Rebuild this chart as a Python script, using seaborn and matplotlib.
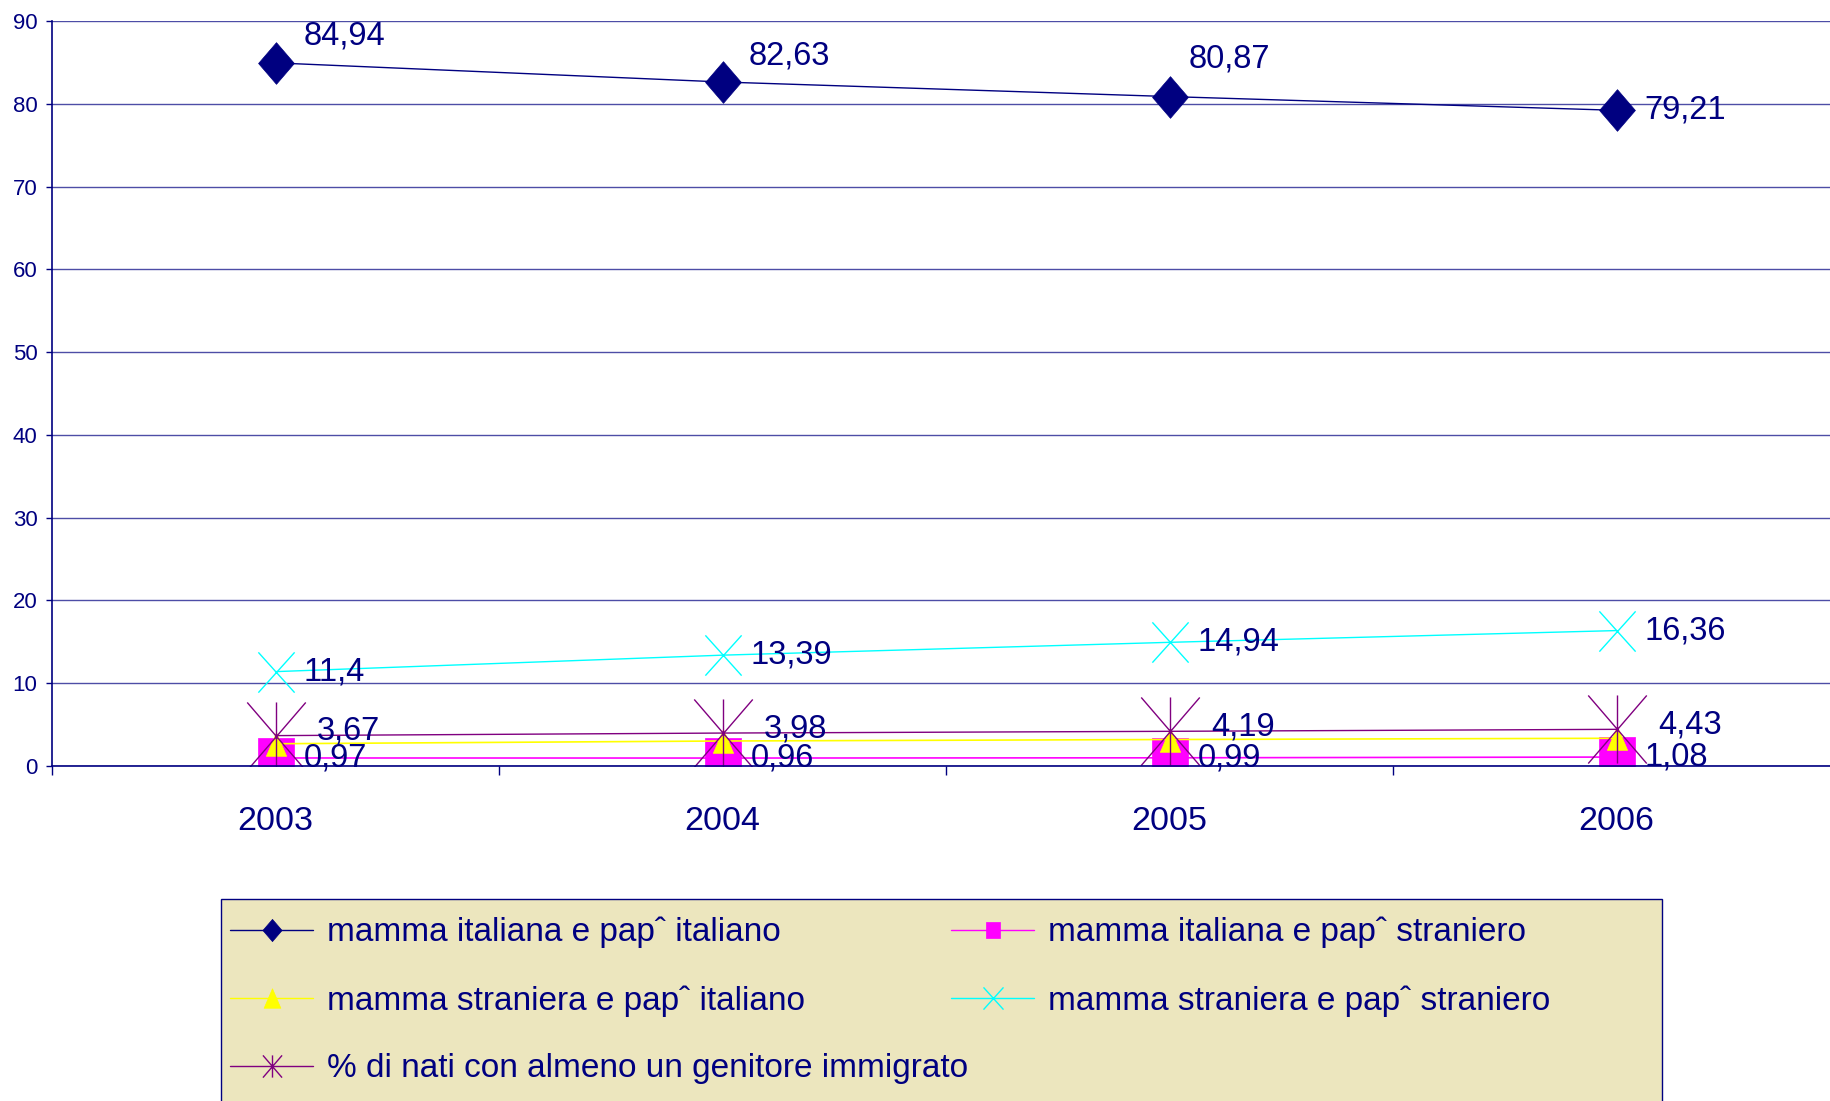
import matplotlib
matplotlib.use("Agg")
import matplotlib.pyplot as plt
import seaborn as sns
from matplotlib.lines import Line2D
from matplotlib.patches import Rectangle
from matplotlib.path import Path

# --- data ---
years = [2003, 2004, 2005, 2006]
ita_ita = [84.94, 82.63, 80.87, 79.21]
ita_str = [0.97, 0.96, 0.99, 1.08]
str_ita = [2.69, 3.02, 3.20, 3.35]  # no labels on chart
str_str = [11.4, 13.39, 14.94, 16.36]
almeno_uno = [3.67, 3.98, 4.19, 4.43]

names = [
    "mamma italiana e papˆ italiano",
    "mamma italiana e papˆ straniero",
    "mamma straniera e papˆ italiano",
    "mamma straniera e papˆ straniero",
    "% di nati con almeno un genitore immigrato",
]
series = [ita_ita, ita_str, str_ita, str_str, almeno_uno]
show_labels = [True, True, False, True, True]

NAVY = "#000080"

# --- markers (excel ones are a bit taller than wide) ---
def seg_marker(segs):
    verts, codes = [], []
    for a, b in segs:
        verts += [a, b]
        codes += [Path.MOVETO, Path.LINETO]
    return Path(verts, codes)

diamond = Path([(0, 1), (0.86, 0), (0, -1), (-0.86, 0), (0, 1)], closed=True)
square = Path([(-0.89, -1), (0.89, -1), (0.89, 1), (-0.89, 1), (-0.89, -1)], closed=True)
triangle = Path([(0, 1), (0.86, -1), (-0.86, -1), (0, 1)], closed=True)
cross = seg_marker([((-0.9, -1), (0.9, 1)), ((-0.9, 1), (0.9, -1))])
star = seg_marker([((-0.86, -1), (0.86, 1)), ((-0.86, 1), (0.86, -1)), ((0, -1), (0, 1))])

styles = [
    dict(color=NAVY, marker=diamond, ms=30, mew=0.5, lw=1.0, leg_ms=16),
    dict(color="#ff00ff", marker=square, ms=29, mew=0.5, lw=1.2, leg_ms=11),
    dict(color="#ffff00", marker=triangle, ms=17, mew=0.5, lw=1.2, leg_ms=14),
    dict(color="#00ffff", marker=cross, ms=29, mew=1.0, lw=1.0, leg_ms=16),
    dict(color="#800080", marker=star, ms=49, mew=1.0, lw=1.0, leg_ms=16),
]

# offsets (points) of the data labels
label_offsets = [
    [(20, 19), (18.5, 19), (13.5, 27), (20, 0)],
    [(20, 0)] * 4,
    None,
    [(20, 0)] * 4,
    [(30, 3)] * 4,
]

sns.set_style("white")
plt.rcParams["font.family"] = ["Liberation Sans", "DejaVu Sans"]

fig = plt.figure(figsize=(18.31, 11.01), dpi=100)
ax = fig.add_axes([52 / 1831, 335 / 1101, 1788 / 1831, 745 / 1101])

for vals, st in zip(series, styles):
    sns.lineplot(x=years, y=vals, ax=ax, color=st["color"], linewidth=st["lw"],
                 marker=st["marker"], markersize=st["ms"], markeredgewidth=st["mew"],
                 markeredgecolor=st["color"], markerfacecolor=st["color"], legend=False)

for vals, offs, show in zip(series, label_offsets, show_labels):
    if not show:
        continue
    for x, v, off in zip(years, vals, offs):
        ax.annotate(f"{v:g}".replace(".", ","), (x, v), xytext=off, textcoords="offset points",
                    ha="left", va="center", fontsize=23.5, color=NAVY)

# --- axes ---
ax.set_xlim(2002.5, 2006.5)
ax.set_ylim(0, 90)
ax.set_yticks(range(0, 91, 10))
ax.set_xticks(years)
ax.set_xticks([2002.5, 2003.5, 2004.5, 2005.5, 2006.5], minor=True)
ax.set_xlabel("")
ax.set_ylabel("")
ax.tick_params(axis="x", which="major", bottom=True, length=0, pad=29, labelsize=24.5, labelcolor=NAVY)
ax.tick_params(axis="x", which="minor", bottom=True, length=6.5, width=1, color=NAVY, direction="out")
ax.tick_params(axis="y", left=True, length=4.5, width=1, color=NAVY, pad=6, labelsize=16,
               labelcolor=NAVY, direction="out")
ax.yaxis.grid(True, color="#4d4da6", linewidth=1)
ax.xaxis.grid(False)
for side in ["top", "right"]:
    ax.spines[side].set_visible(False)
for side in ["left", "bottom"]:
    ax.spines[side].set_color(NAVY)
    ax.spines[side].set_linewidth(1.2)

# --- legend box + two columns of entries ---
fig.add_artist(Rectangle((221 / 1831, -0.05), (1662 - 221) / 1831, 0.05 + 1 - 899 / 1101,
                         transform=fig.transFigure, facecolor="#ece6be", edgecolor=NAVY,
                         linewidth=1, zorder=0))

handles = [Line2D([], [], color=st["color"], linewidth=1, marker=st["marker"], markersize=st["leg_ms"],
                  markeredgecolor=st["color"], markerfacecolor=st["color"], markeredgewidth=st["mew"])
           for st in styles]
for idx, x0 in (([0, 2, 4], 230), ([1, 3], 951)):
    fig.legend([handles[i] for i in idx], [names[i] for i in idx], loc="upper left",
               bbox_to_anchor=(x0 / 1831, 1 - 917 / 1101), frameon=False, fontsize=24,
               labelcolor=NAVY, handlelength=2.5, handletextpad=0.4, labelspacing=1.1,
               borderpad=0, borderaxespad=0, numpoints=1)

fig.savefig("out.png", dpi=100)
